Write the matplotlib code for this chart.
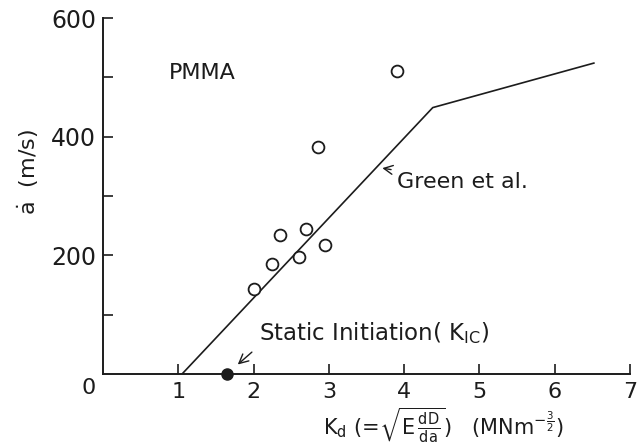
import matplotlib
matplotlib.use("Agg")
import matplotlib.pyplot as plt

# data
kd_points = [2.0, 2.25, 2.35, 2.6, 2.7, 2.95, 2.85, 3.9]
speed_points = [143, 185, 235, 198, 245, 218, 382, 510]

green_kd = [1.05, 4.38, 6.52]
green_speed = [0, 449, 524]

kic = 1.65

xticks = [1, 2, 3, 4, 5, 6, 7]
yticks = [200, 400, 600]
yminor = [100, 300, 500]

ink = '#1c1c1c'
plt.rcParams['font.family'] = 'DejaVu Sans'
plt.rcParams['mathtext.fontset'] = 'dejavusans'

fig = plt.figure(figsize=(6.4, 4.48), dpi=100)
ax = fig.add_axes([103 / 640, 1 - 374 / 448, 527 / 640, 356 / 448])

ax.plot(green_kd, green_speed, color=ink, lw=1.2)
ax.plot(kd_points, speed_points, 'o', mfc='white', mec=ink, ms=8.5, mew=1.3)
ax.plot([kic], [0], 'o', color=ink, ms=8, clip_on=False, zorder=5)

ax.set_xlim(0, 7)
ax.set_ylim(0, 600)
ax.spines['top'].set_visible(False)
ax.spines['right'].set_visible(False)
for s in ['left', 'bottom']:
    ax.spines[s].set_linewidth(1.4)
    ax.spines[s].set_color(ink)

ax.set_xticks(xticks)
ax.set_yticks(yticks)
ax.set_yticks(yminor, minor=True)
ax.tick_params(axis='both', which='both', direction='in', length=7, width=1.2, color=ink)
ax.tick_params(axis='y', which='major', labelsize=17, pad=5, labelcolor=ink)
ax.tick_params(axis='x', which='major', labelsize=16, pad=6, labelcolor=ink)

ax.text(-0.19, -24, '0', fontsize=16, color=ink, ha='center', va='center', clip_on=False)

ax.set_ylabel(r'$\dot{\mathrm{a}}$  (m/s)', fontsize=16, color=ink)
ax.yaxis.set_label_coords(-0.118, 0.567)
ax.set_xlabel(r'K$_\mathrm{d}$ (=$\sqrt{\mathrm{E}\,\frac{\mathrm{dD}}{\mathrm{da}}}$)   (MNm$^{-\frac{3}{2}}$)',
              fontsize=15, color=ink)
ax.xaxis.set_label_coords(0.645, -0.09)

ax.text(0.88, 508, 'PMMA', fontsize=16, color=ink, va='center')

ax.annotate('Green et al.', xy=(3.71, 347), xytext=(3.9, 324), fontsize=16, color=ink,
            va='center', ha='left',
            arrowprops=dict(arrowstyle='->', color=ink, lw=1.0, shrinkA=2, shrinkB=0))

ax.annotate(r'Static Initiation( K$_\mathrm{IC}$)', xy=(1.79, 16), xytext=(2.07, 69),
            fontsize=16.5, color=ink, va='center', ha='left',
            arrowprops=dict(arrowstyle='->', color=ink, lw=1.0, shrinkA=4, shrinkB=0,
                            relpos=(0, 0)))

fig.savefig('out.png', dpi=100)
